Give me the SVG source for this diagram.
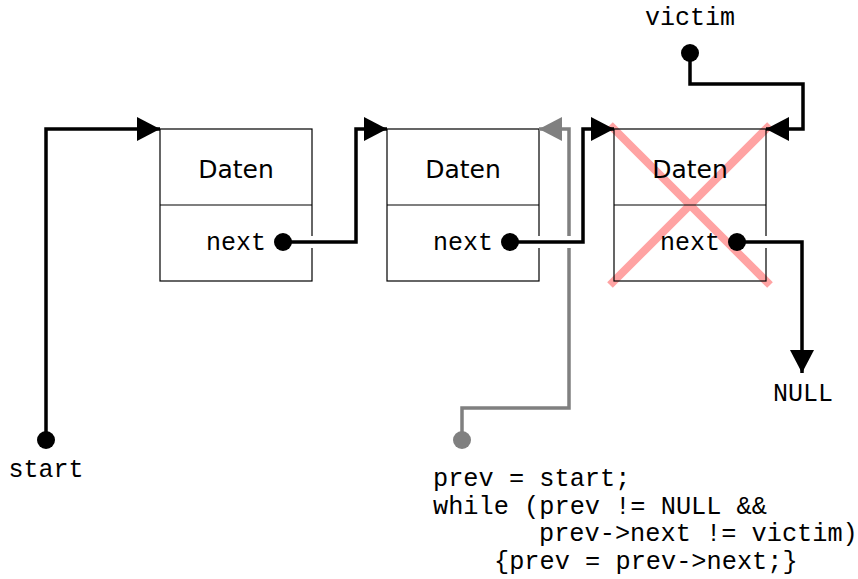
<svg xmlns="http://www.w3.org/2000/svg" width="858" height="579" viewBox="0 0 858 579">
  <style>
    .box { fill: none; stroke: #000; stroke-width: 1.2; }
    .sans { font-family: "DejaVu Sans", "Liberation Sans", sans-serif; font-size: 25px; fill: #000; }
    .mono { font-family: "Liberation Mono", "DejaVu Sans Mono", monospace; font-size: 25px; fill: #000; }
    .code { font-size: 25.3px; }
    .wire { fill: none; stroke: #000; stroke-width: 3.5; stroke-linejoin: miter; }
    .casing { fill: none; stroke: #fff; stroke-width: 12; }
    .gray { fill: none; stroke: #808080; stroke-width: 3.5; }
    .cross { stroke: #ffa3a3; stroke-width: 8; }
  </style>
  <defs>
    <marker id="head" markerUnits="userSpaceOnUse" markerWidth="24" markerHeight="26" refX="23" refY="12" orient="auto" viewBox="0 0 24 24">
      <path d="M0,0 L23,12 L0,24 Z" fill="#000"/>
    </marker>
    <marker id="head-gray" markerUnits="userSpaceOnUse" markerWidth="24" markerHeight="26" refX="23" refY="12" orient="auto" viewBox="0 0 24 24">
      <path d="M0,0 L23,12 L0,24 Z" fill="#808080"/>
    </marker>
  </defs>

  <!-- deleted element mark (behind the third node) -->
  <g id="cross">
    <line class="cross" x1="610" y1="125" x2="770" y2="285"/>
    <line class="cross" x1="770" y1="125" x2="610" y2="285"/>
  </g>

  <!-- list nodes -->
  <g id="node1">
    <rect class="box" x="160" y="129" width="152" height="152"/>
    <line class="box" x1="160" y1="205" x2="312" y2="205"/>
    <text class="sans" x="236" y="178" text-anchor="middle">Daten</text>
    <text class="mono" x="236" y="250" text-anchor="middle">next</text>
  </g>
  <g id="node2">
    <rect class="box" x="387" y="129" width="152" height="152"/>
    <line class="box" x1="387" y1="205" x2="539" y2="205"/>
    <text class="sans" x="463" y="178" text-anchor="middle">Daten</text>
    <text class="mono" x="463" y="250" text-anchor="middle">next</text>
  </g>
  <g id="node3">
    <rect class="box" x="614" y="129" width="152" height="152"/>
    <line class="box" x1="614" y1="205" x2="766" y2="205"/>
    <text class="sans" x="690" y="178" text-anchor="middle">Daten</text>
    <text class="mono" x="690" y="250" text-anchor="middle">next</text>
  </g>

  <!-- pointer variables and labels -->
  <g id="start">
    <text class="mono" x="46" y="477" text-anchor="middle">start</text>
  </g>
  <g id="victim">
    <text class="mono" x="690" y="25" text-anchor="middle">victim</text>
  </g>
  <g id="null">
    <text class="mono" x="803" y="401" text-anchor="middle">NULL</text>
  </g>
  <g id="code">
    <text class="mono code" x="433" y="486">prev = start;</text>
    <text class="mono code" x="433" y="513.5">while (prev != NULL &amp;&amp;</text>
    <text class="mono code" x="539" y="541">prev-&gt;next != victim)</text>
    <text class="mono code" x="494" y="568.5">{prev = prev-&gt;next;}</text>
  </g>

  <!-- connectors -->
  <g id="connectors">
    <!-- prev search pointer -->
    <path class="gray" d="M462,440 V408 H569 V129 H539" marker-end="url(#head-gray)"/>
    <circle cx="462" cy="440" r="9" fill="#808080"/>

    <!-- start -> node1 -->
    <path class="wire" d="M46,440 V129 H160" marker-end="url(#head)"/>
    <circle cx="46" cy="440" r="9" fill="#000"/>

    <!-- node1.next -> node2 -->
    <path class="casing" d="M283,242 H356 V129 H372"/>
    <path class="wire" d="M283,242 H356 V129 H387" marker-end="url(#head)"/>
    <circle cx="283" cy="242" r="9" fill="#000"/>

    <!-- node2.next -> node3 -->
    <path class="casing" d="M510,242 H583 V129 H599"/>
    <path class="wire" d="M510,242 H583 V129 H614" marker-end="url(#head)"/>
    <circle cx="510" cy="242" r="9" fill="#000"/>

    <!-- node3.next -> NULL -->
    <path class="casing" d="M737,242 H802 V350"/>
    <path class="wire" d="M737,242 H802 V373" marker-end="url(#head)"/>
    <circle cx="737" cy="242" r="9" fill="#000"/>

    <!-- victim -> node3 -->
    <path class="wire" d="M690,53 V84 H803 V129 H766" marker-end="url(#head)"/>
    <circle cx="690" cy="53" r="9" fill="#000"/>
  </g>
</svg>
